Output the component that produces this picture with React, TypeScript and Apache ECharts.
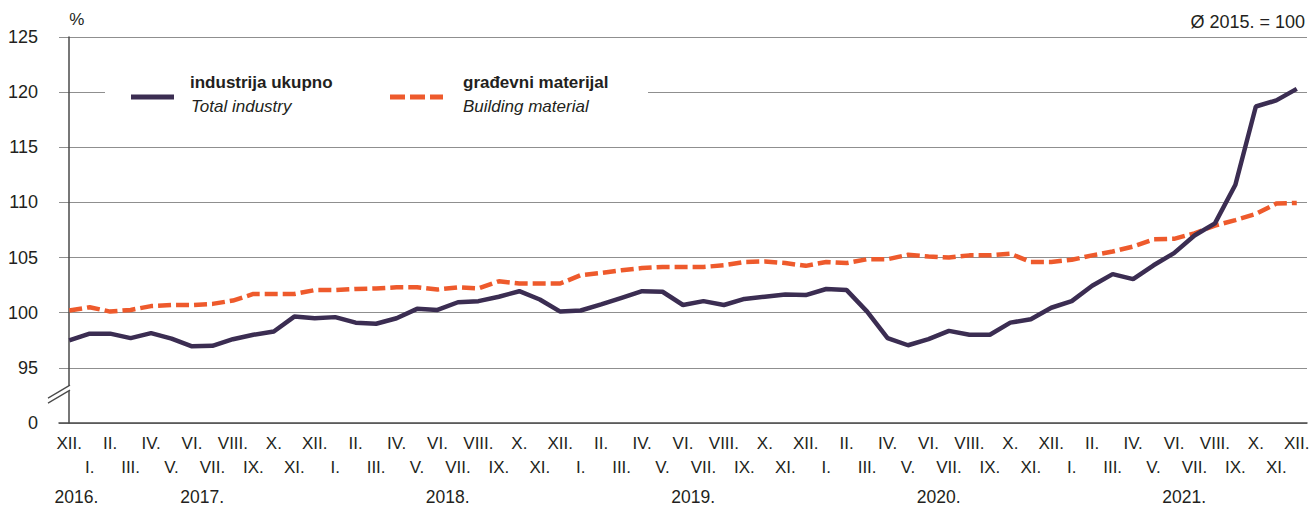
import React, { useEffect, useRef } from 'react';
import * as echarts from 'echarts';

const ROMAN = ['I.', 'II.', 'III.', 'IV.', 'V.', 'VI.', 'VII.', 'VIII.', 'IX.', 'X.', 'XI.', 'XII.'];
const categories = ['XII.', ...ROMAN, ...ROMAN, ...ROMAN, ...ROMAN, ...ROMAN];

const totalIndustry = [
  97.5, 98.1, 98.1, 97.7, 98.15, 97.65, 96.95, 97.0, 97.6, 98.0, 98.3, 99.65, 99.5,
  99.6, 99.1, 99.0, 99.5, 100.35, 100.25, 100.95, 101.05, 101.45, 101.95, 101.2, 100.1,
  100.2, 100.75, 101.35, 101.95, 101.9, 100.7, 101.05, 100.7, 101.25, 101.45, 101.65, 101.6,
  102.15, 102.05, 100.1, 97.7, 97.05, 97.6, 98.35, 98.0, 98.0, 99.1, 99.4, 100.45,
  101.05, 102.45, 103.5, 103.05, 104.3, 105.4, 107.0, 108.1, 111.6, 118.7, 119.25, 120.3,
];

const buildingMaterial = [
  100.2, 100.5, 100.1, 100.25, 100.6, 100.7, 100.7, 100.8, 101.1, 101.7, 101.7, 101.7, 102.05,
  102.05, 102.15, 102.2, 102.3, 102.3, 102.1, 102.3, 102.2, 102.85, 102.65, 102.65, 102.65,
  103.4, 103.6, 103.85, 104.05, 104.15, 104.15, 104.15, 104.3, 104.6, 104.65, 104.5, 104.25,
  104.6, 104.5, 104.85, 104.85, 105.25, 105.1, 105.0, 105.2, 105.2, 105.35, 104.6, 104.6,
  104.8, 105.2, 105.55, 106.0, 106.65, 106.7, 107.2, 107.9, 108.4, 108.95, 109.9, 109.95,
];

const yearLabels = ['2016.', '2017.', '2018.', '2019.', '2020.', '2021.'];
const yearPositions = [0.35, 6.5, 18.5, 30.5, 42.5, 54.5];

const seriesNames = ['industrija ukupno', 'građevni materijal'];
const seriesNamesEn = ['Total industry', 'Building material'];

const FONT = '"Liberation Sans", Arial, sans-serif';
const TXT = '#231f20';
const C_TOTAL = '#3b2d52';
const C_BUILD = '#ee5a2c';

export default function App() {
  const ref = useRef<HTMLDivElement>(null);

  useEffect(() => {
    document.body.style.margin = '0';
    if (!ref.current) return;
    const chart = echarts.init(ref.current, undefined, { renderer: 'svg' });
    chart.setOption({
      animation: false,
      textStyle: { fontFamily: FONT, color: TXT },
      title: {
        text: 'Ø 2015. = 100',
        right: 4,
        top: 13,
        padding: 0,
        textStyle: { fontFamily: FONT, fontSize: 18, fontWeight: 'normal', color: TXT },
      },
      grid: { left: 59, right: 2, top: 37, bottom: 83, containLabel: false, outerBoundsMode: 'none' },
      xAxis: [
        {
          type: 'category',
          data: categories,
          boundaryGap: true,
          axisLine: { show: true, lineStyle: { color: '#4a4a4a', width: 1.5 } },
          axisTick: { show: false },
          splitLine: { show: false },
          axisLabel: {
            interval: 0,
            margin: 8,
            fontFamily: FONT,
            fontSize: 17,
            color: TXT,
            lineHeight: 24,
            formatter: (v: string, i: number) => (i % 2 === 0 ? v : '\n' + v),
          },
        },
        {
          type: 'value',
          min: -0.5,
          max: 60.5,
          position: 'bottom',
          axisLine: { show: false },
          axisTick: { show: false },
          splitLine: { show: false },
          axisLabel: {
            customValues: yearPositions,
            margin: 65,
            fontFamily: FONT,
            fontSize: 17.5,
            color: TXT,
            formatter: (v: number) => {
              const k = yearPositions.findIndex((p) => Math.abs(p - v) < 1e-6);
              return k >= 0 ? yearLabels[k] : '';
            },
          },
        },
      ],
      yAxis: {
        type: 'value',
        min: 90,
        max: 125,
        interval: 5,
        name: '%',
        nameLocation: 'end',
        nameGap: 9,
        nameTextStyle: { align: 'left', verticalAlign: 'bottom', fontFamily: FONT, fontSize: 17, color: TXT },
        axisLine: { show: true, lineStyle: { color: '#4a4a4a', width: 1.5 } },
        axisTick: { show: false },
        splitLine: { show: true, lineStyle: { color: '#8f8f8f', width: 1 } },
        axisLabel: {
          margin: 21,
          fontFamily: FONT,
          fontSize: 18,
          color: TXT,
          formatter: (v: number) => (v === 90 ? '0' : String(v)),
        },
      },
      series: [
        {
          name: seriesNames[1],
          type: 'line',
          data: buildingMaterial,
          symbol: 'none',
          lineStyle: { color: C_BUILD, width: 4.5, type: [13, 5] },
          z: 2,
        },
        {
          name: seriesNames[0],
          type: 'line',
          data: totalIndustry,
          symbol: 'none',
          lineStyle: { color: C_TOTAL, width: 4.5 },
          z: 3,
        },
      ],
    });

    const by = chart.convertToPixel({ yAxisIndex: 0 }, 92.8) as number;
    const ax = chart.convertToPixel({ xAxisIndex: 1 }, -0.5) as number;

    chart.setOption({
      graphic: [
        { type: 'rect', shape: { x: 105, y: 72, width: 543, height: 50 }, style: { fill: '#fff' }, z: 10 },
        { type: 'line', shape: { x1: 131, y1: 97, x2: 174, y2: 97 }, style: { stroke: C_TOTAL, lineWidth: 5 }, z: 11 },
        { type: 'text', x: 190, y: 74, style: { text: seriesNames[0], fontFamily: FONT, fontSize: 17, fontWeight: 'bold', fill: TXT }, z: 11 },
        { type: 'text', x: 191, y: 98, style: { text: seriesNamesEn[0], fontFamily: FONT, fontSize: 17, fontStyle: 'italic', fill: TXT }, z: 11 },
        { type: 'line', shape: { x1: 390, y1: 97, x2: 443, y2: 97 }, style: { stroke: C_BUILD, lineWidth: 5, lineDash: [15, 5] }, z: 11 },
        { type: 'text', x: 463, y: 74, style: { text: seriesNames[1], fontFamily: FONT, fontSize: 17, fontWeight: 'bold', fill: TXT }, z: 11 },
        { type: 'text', x: 463, y: 98, style: { text: seriesNamesEn[1], fontFamily: FONT, fontSize: 17, fontStyle: 'italic', fill: TXT }, z: 11 },
        {
          type: 'polygon',
          shape: { points: [[ax - 11, by + 6], [ax + 11, by - 7], [ax + 11, by - 2], [ax - 11, by + 11]] },
          style: { fill: '#fff' },
          z: 20,
        },
        { type: 'line', shape: { x1: ax - 11, y1: by + 6, x2: ax + 11, y2: by - 7 }, style: { stroke: '#4a4a4a', lineWidth: 1.2 }, z: 21 },
        { type: 'line', shape: { x1: ax - 11, y1: by + 11, x2: ax + 11, y2: by - 2 }, style: { stroke: '#4a4a4a', lineWidth: 1.2 }, z: 21 },
      ],
    });

    return () => chart.dispose();
  }, []);

  return <div ref={ref} style={{ width: 1309, height: 506 }} />;
}
